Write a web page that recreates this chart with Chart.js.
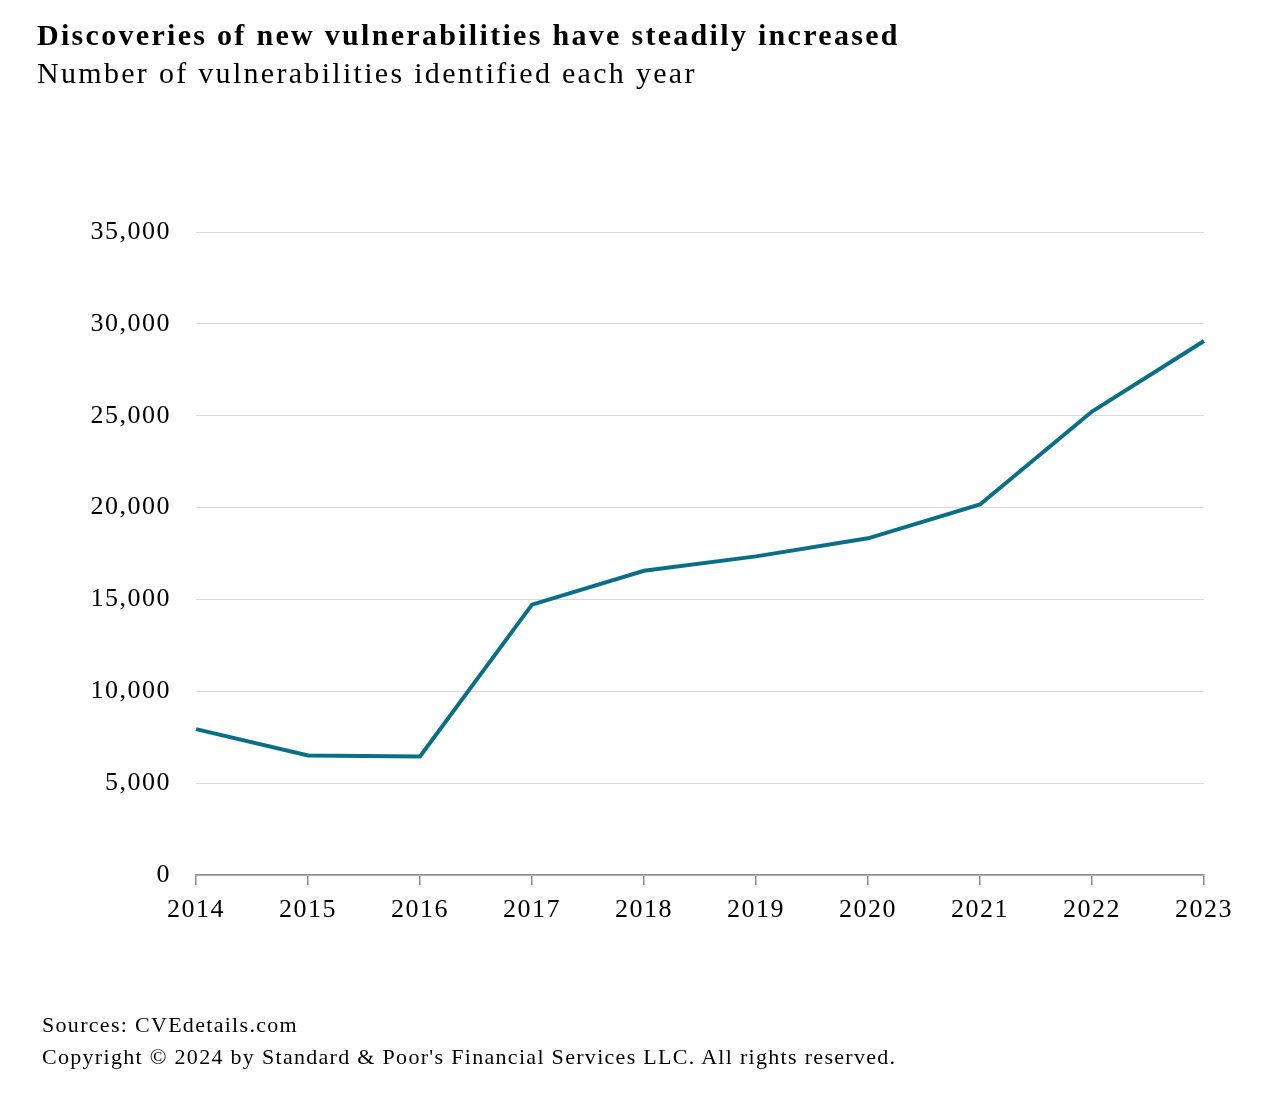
<!DOCTYPE html>
<html>
<head>
<meta charset="utf-8">
<script src="https://cdn.jsdelivr.net/npm/chart.js@4.4.1/dist/chart.umd.min.js"></script>
<style>
  body { margin: 0; background: #fff; }
  .wrap { position: relative; width: 1280px; height: 1112px; font-family: "Liberation Serif", "Times New Roman", serif; color: #000; }
  .title { position: absolute; left: 37px; top: 18px; font-size: 30px; font-weight: bold; letter-spacing: 2.3px; white-space: nowrap; }
  .subtitle { position: absolute; left: 37px; top: 56px; font-size: 30px; letter-spacing: 2.3px; white-space: nowrap; }
  .source { position: absolute; left: 42px; top: 1012px; font-size: 22px; letter-spacing: 1.3px; white-space: nowrap; }
  .copy { position: absolute; left: 42px; top: 1044px; font-size: 22px; letter-spacing: 1.3px; white-space: nowrap; }
  canvas { position: absolute; left: 0; top: 0; }
</style>
</head>
<body>
<div class="wrap">
  <canvas id="c" width="1280" height="1112"></canvas>
  <div class="title">Discoveries of new vulnerabilities have steadily increased</div>
  <div class="subtitle">Number of vulnerabilities identified each year</div>
  <div class="source">Sources: CVEdetails.com</div>
  <div class="copy">Copyright © 2024 by Standard &amp; Poor's Financial Services LLC. All rights reserved.</div>
</div>
<script>
const years = ['2014', '2015', '2016', '2017', '2018', '2019', '2020', '2021', '2022', '2023'];
const vulnCount = [7939, 6504, 6454, 14714, 16557, 17344, 18325, 20171, 25227, 29066];
const yTicks = [0, 5000, 10000, 15000, 20000, 25000, 30000, 35000];

// canvas text spacing, the reference labels are spread out a bit
const spacing = {
  id: 'spacing',
  beforeLayout: c => { c.ctx.letterSpacing = '1.5px'; },
  beforeDraw: c => { c.ctx.letterSpacing = '1.5px'; }
};

const ctx = document.getElementById('c').getContext('2d');
const chart = new Chart(ctx, {
  type: 'line',
  data: {
    labels: years,
    datasets: [{
      label: 'Vulnerabilities',
      data: vulnCount,
      borderColor: '#0b6e87',
      borderWidth: 4,
      pointRadius: 0,
      tension: 0,
      fill: false
    }]
  },
  plugins: [spacing],
  options: {
    responsive: false,
    animation: false,
    layout: { padding: { left: 0, top: 232, right: 76, bottom: 177 } },
    plugins: { legend: { display: false }, tooltip: { enabled: false } },
    scales: {
      x: {
        offset: false,
        afterFit: s => { s.height = 60; },
        grid: { drawOnChartArea: false, drawTicks: true, tickLength: 10, color: '#8c8c8c', lineWidth: 1.5 },
        border: { color: '#8c8c8c', width: 1.5 },
        ticks: { color: '#000', font: { family: '"Liberation Serif", serif', size: 26 }, padding: 10, maxRotation: 0 }
      },
      y: {
        min: 0,
        max: 35000,
        afterFit: s => { s.width = 196; },
        afterBuildTicks: s => { s.ticks = yTicks.map(v => ({ value: v })); },
        grid: { color: '#d9d9d9', lineWidth: 1, drawTicks: false },
        border: { display: false },
        ticks: {
          color: '#000',
          padding: 25,
          font: { family: '"Liberation Serif", serif', size: 26 },
          callback: v => v.toLocaleString('en-US')
        }
      }
    }
  }
});
</script>
</body>
</html>
